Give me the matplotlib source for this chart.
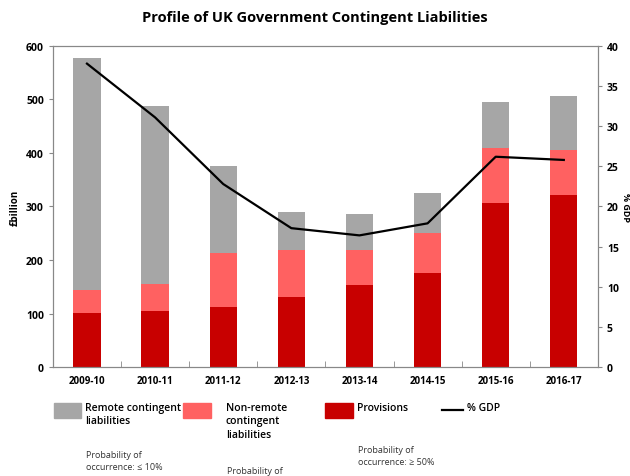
import matplotlib
matplotlib.use("Agg")
import matplotlib.pyplot as plt
import numpy as np
from matplotlib.patches import Rectangle
from matplotlib.lines import Line2D

plt.rcParams['font.family'] = ['Open Sans', 'DejaVu Sans']

years = ["2009-10", "2010-11", "2011-12", "2012-13", "2013-14", "2014-15", "2015-16", "2016-17"]
provisions = [101, 105, 113, 130, 153, 176, 306, 322]
non_remote = [42, 51, 101, 89, 66, 74, 104, 84]
remote = [434, 331, 162, 71, 67, 76, 85, 100]
gdp_pct = [37.8, 31.1, 22.8, 17.3, 16.4, 17.9, 26.2, 25.8]

c_remote = "#a6a6a6"
c_nonremote = "#ff6161"
c_prov = "#c80000"

fig = plt.figure(figsize=(6.3, 4.77), dpi=100)
ax = fig.add_axes([0.084, 0.2285, 0.865, 0.673])
x = np.arange(len(years))
w = 0.4
prov = np.array(provisions)
nr = np.array(non_remote)
ax.bar(x, prov, w, color=c_prov)
ax.bar(x, nr, w, bottom=prov, color=c_nonremote)
ax.bar(x, remote, w, bottom=prov + nr, color=c_remote)
ax.set_xlim(-0.5, len(years) - 0.5)
ax.set_ylim(0, 600)
ax.set_yticks(range(0, 601, 100))
ax.set_xticks(x)
ax.set_xticklabels(years, fontsize=7, fontweight='bold')
ax.set_xticks(np.arange(-0.5, len(years), 1), minor=True)
ax.tick_params(axis='x', which='major', length=0, pad=6)
ax.tick_params(axis='x', which='minor', length=4, color='#888888', direction='in')
ax.tick_params(axis='y', labelsize=7.5, length=3, color='#888888')
for lbl in ax.get_yticklabels():
    lbl.set_fontweight('bold')
ax.set_ylabel("£billion", fontsize=7, fontweight='bold', labelpad=4)
for s in ax.spines.values():
    s.set_color('#888888')

ax2 = ax.twinx()
ax2.plot(x, gdp_pct, color='black', lw=1.6)
ax2.set_ylim(0, 40)
ax2.set_yticks(range(0, 41, 5))
ax2.tick_params(axis='y', labelsize=7.5, length=3, color='#888888')
for lbl in ax2.get_yticklabels():
    lbl.set_fontweight('bold')
ax2.set_ylabel("% GDP", fontsize=6.5, fontweight='bold', rotation=-90, labelpad=8)
for s in ax2.spines.values():
    s.set_color('#888888')

fig.text(0.5, 0.962, "Profile of UK Government Contingent Liabilities", ha='center', va='center',
         fontsize=10.5, fontweight='bold')

# custom legend below the chart
W, H = 630, 477
def box(x0, x1, col):
    fig.patches.append(Rectangle((x0 / W, 1 - 419 / H), (x1 - x0) / W, 15 / H,
                                 transform=fig.transFigure, color=col))
box(54, 81, c_remote)
box(183, 211, c_nonremote)
box(325, 353, c_prov)
fig.lines.append(Line2D([442 / W, 463 / W], [1 - 411 / H, 1 - 411 / H], color='black', lw=1.6,
                        transform=fig.transFigure))
lt = dict(fontsize=7.5, fontweight='semibold', va='top', ha='left', linespacing=1.3)
fig.text(85 / W, 1 - 403 / H, "Remote contingent\nliabilities", **lt)
fig.text(226 / W, 1 - 403 / H, "Non-remote\ncontingent\nliabilities", **lt)
fig.text(357 / W, 1 - 403 / H, "Provisions", **lt)
fig.text(467 / W, 1 - 403 / H, "% GDP", **lt)
st = dict(fontsize=6.5, va='top', ha='left', color='#333333', linespacing=1.5)
fig.text(86 / W, 1 - 451 / H, "Probability of\noccurrence: ≤ 10%", **st)
fig.text(227 / W, 1 - 467 / H, "Probability of", **st)
fig.text(358 / W, 1 - 446 / H, "Probability of\noccurrence: ≥ 50%", **st)

fig.savefig("out.png", dpi=100)
